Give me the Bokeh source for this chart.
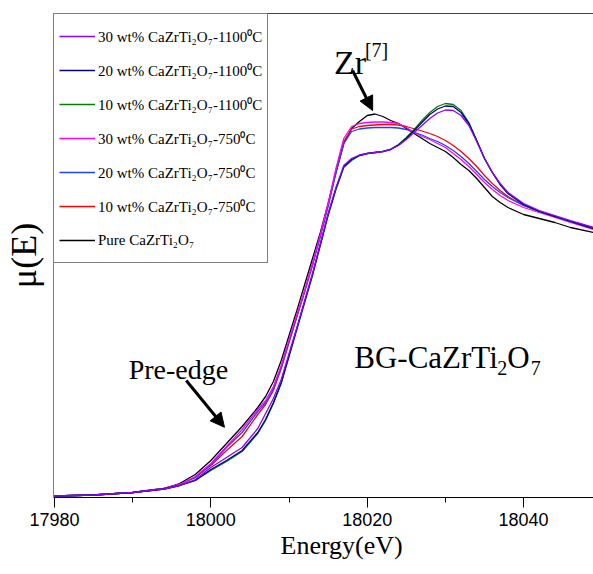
import math
from bokeh.plotting import figure
from bokeh.models import (Range1d, FixedTicker, LinearAxis, Label, Arrow, NormalHead,
                          Legend, LegendItem, NumeralTickFormatter, Title)
from bokeh.embed import file_html
from bokeh.resources import INLINE

# ---------------- data (normalized mu(E)) ----------------
energy = [17980, 17985, 17990, 17994, 17996, 17998, 18000, 18002, 18004, 18006, 18007,
          18008, 18009, 18010, 18011, 18012, 18013, 18014, 18015, 18016, 18017, 18018,
          18019, 18020, 18021, 18022, 18023, 18024, 18025, 18026, 18027, 18028, 18029,
          18030, 18031, 18032, 18033, 18034, 18035, 18036, 18037, 18038, 18040, 18042,
          18044, 18046, 18049]

pure = [0.006, 0.010, 0.020, 0.036, 0.056, 0.092, 0.148, 0.216, 0.284, 0.360, 0.404,
        0.464, 0.548, 0.648, 0.748, 0.852, 0.956, 1.060, 1.176, 1.300, 1.416, 1.476,
        1.504, 1.528, 1.534, 1.524, 1.508, 1.496, 1.476, 1.456, 1.436, 1.416, 1.400,
        1.384, 1.360, 1.332, 1.308, 1.276, 1.240, 1.204, 1.180, 1.160, 1.132, 1.116,
        1.100, 1.080, 1.060]

wt10_750 = [0.006, 0.010, 0.020, 0.036, 0.052, 0.080, 0.128, 0.188, 0.244, 0.332, 0.372,
            0.428, 0.516, 0.620, 0.724, 0.824, 0.932, 1.048, 1.172, 1.308, 1.424, 1.474,
            1.484, 1.488, 1.490, 1.492, 1.492, 1.490, 1.484, 1.475, 1.466, 1.456, 1.444,
            1.428, 1.408, 1.384, 1.356, 1.324, 1.288, 1.256, 1.228, 1.204, 1.168, 1.144,
            1.124, 1.104, 1.076]

wt20_750 = [0.006, 0.010, 0.020, 0.036, 0.052, 0.080, 0.132, 0.200, 0.260, 0.344, 0.380,
            0.436, 0.520, 0.624, 0.724, 0.824, 0.928, 1.044, 1.164, 1.300, 1.416, 1.464,
            1.474, 1.478, 1.480, 1.480, 1.480, 1.478, 1.472, 1.461, 1.450, 1.436, 1.424,
            1.408, 1.388, 1.364, 1.336, 1.304, 1.272, 1.244, 1.220, 1.200, 1.168, 1.144,
            1.124, 1.104, 1.076]

wt30_750 = [0.006, 0.010, 0.020, 0.036, 0.052, 0.084, 0.136, 0.204, 0.272, 0.352, 0.388,
            0.444, 0.528, 0.632, 0.732, 0.828, 0.936, 1.052, 1.176, 1.316, 1.436, 1.484,
            1.496, 1.500, 1.502, 1.502, 1.500, 1.496, 1.480, 1.460, 1.444, 1.432, 1.416,
            1.400, 1.376, 1.352, 1.324, 1.292, 1.260, 1.232, 1.208, 1.188, 1.160, 1.140,
            1.120, 1.100, 1.072]

wt10_1100 = [0.006, 0.010, 0.020, 0.034, 0.048, 0.068, 0.108, 0.144, 0.184, 0.256, 0.308,
             0.376, 0.456, 0.564, 0.672, 0.780, 0.888, 1.008, 1.128, 1.232, 1.320, 1.348,
             1.368, 1.376, 1.380, 1.384, 1.394, 1.412, 1.440, 1.472, 1.508, 1.540, 1.564,
             1.576, 1.572, 1.548, 1.500, 1.428, 1.356, 1.300, 1.252, 1.216, 1.172, 1.144,
             1.124, 1.104, 1.076]

wt20_1100 = [0.006, 0.010, 0.020, 0.034, 0.048, 0.068, 0.112, 0.148, 0.188, 0.260, 0.312,
             0.380, 0.460, 0.568, 0.676, 0.784, 0.892, 1.012, 1.132, 1.236, 1.324, 1.352,
             1.368, 1.376, 1.380, 1.384, 1.392, 1.410, 1.436, 1.468, 1.500, 1.532, 1.554,
             1.566, 1.564, 1.540, 1.496, 1.428, 1.356, 1.300, 1.252, 1.216, 1.172, 1.144,
             1.124, 1.104, 1.076]

wt30_1100 = [0.006, 0.010, 0.020, 0.034, 0.048, 0.072, 0.120, 0.160, 0.200, 0.276, 0.336,
             0.396, 0.472, 0.576, 0.680, 0.788, 0.896, 1.016, 1.136, 1.240, 1.328, 1.356,
             1.370, 1.376, 1.380, 1.384, 1.392, 1.408, 1.432, 1.460, 1.488, 1.516, 1.538,
             1.550, 1.548, 1.528, 1.488, 1.424, 1.356, 1.300, 1.256, 1.220, 1.176, 1.148,
             1.128, 1.108, 1.080]

x_ticks = [17980, 18000, 18020, 18040]
x_minor = [17990, 18010, 18030]

series_labels = ["30 wt% CaZrTi\u2082O\u2087-1100\u2070C",
                 "20 wt% CaZrTi\u2082O\u2087-1100\u2070C",
                 "10 wt% CaZrTi\u2082O\u2087-1100\u2070C",
                 "30 wt% CaZrTi\u2082O\u2087-750\u2070C",
                 "20 wt% CaZrTi\u2082O\u2087-750\u2070C",
                 "10 wt% CaZrTi\u2082O\u2087-750\u2070C",
                 "Pure CaZrTi\u2082O\u2087"]
series_values = [wt30_1100, wt20_1100, wt10_1100, wt30_750, wt20_750, wt10_750, pure]
series_colors = ["#8B00FF", "#000080", "#008000", "#FF00FF", "#2040FF", "#FF0000", "#000000"]

# ---------------- figure ----------------
SERIF = "Liberation Serif"
p = figure(width=593, height=574, output_backend="svg", toolbar_location=None,
           x_range=Range1d(17979.872, 18048.94), y_range=Range1d(0, 1.936),
           min_border_left=52, min_border_right=0, min_border_top=13, min_border_bottom=77)
p.grid.visible = False
p.outline_line_color = None
p.background_fill_color = "white"
p.border_fill_color = "white"

xa = p.xaxis[0]
xa.ticker = FixedTicker(ticks=x_ticks, minor_ticks=x_minor)
xa.formatter = NumeralTickFormatter(format="0")
xa.major_label_text_font = "Liberation Sans"
xa.major_label_text_font_size = "18px"
xa.major_label_text_color = "black"
xa.major_tick_out = 10
xa.major_tick_in = 0
xa.minor_tick_out = 5
xa.minor_tick_in = 0
xa.major_label_standoff = 5
xa.axis_line_color = "black"
xa.axis_line_width = 1.2
xa.major_tick_line_color = "black"
xa.minor_tick_line_color = "black"

ya = p.yaxis[0]
ya.ticker = FixedTicker(ticks=[])
ya.major_tick_out = 0
ya.minor_tick_out = 0
ya.major_label_text_font_size = "0px"
ya.axis_line_color = "#808080"
ya.axis_label = "\u03bc(E)"
ya.axis_label_text_font = SERIF
ya.axis_label_text_font_size = "36px"
ya.axis_label_text_font_style = "normal"
ya.axis_label_text_color = "black"
ya.axis_label_standoff = 10

top = LinearAxis(ticker=FixedTicker(ticks=[]), major_tick_out=0, minor_tick_out=0,
                 major_label_text_font_size="0px", axis_line_color="#404040")
p.add_layout(top, "above")

xtitle = Title(text="Energy(eV)", align="left", offset=227, text_font=SERIF,
               text_font_size="26px", text_font_style="normal", text_color="black",
               standoff=0)
p.add_layout(xtitle, "below")

# draw order: black underneath, purple on top
draw_order = [6, 5, 4, 3, 2, 1, 0]
renderers = {}
for i in draw_order:
    renderers[i] = p.line(energy, series_values[i], line_color=series_colors[i], line_width=1.3)

legend = Legend(items=[LegendItem(label=series_labels[i], renderers=[renderers[i]]) for i in range(7)],
                location="top_left", margin=0, padding=5, spacing=0,
                glyph_width=36, glyph_height=34, label_height=34, label_standoff=3,
                label_text_font=SERIF, label_text_font_size="15px", label_text_color="black",
                border_line_color="black", border_line_width=1,
                background_fill_color="white", background_fill_alpha=1)
p.add_layout(legend)

# ---------------- annotations ----------------
def lab(x, y, t, size):
    return Label(x=x, y=y, text=t, text_font=SERIF, text_font_size=size, text_color="black",
                 text_baseline="alphabetic", text_align="left")

p.add_layout(lab(18015.75, 1.740, "Zr", "34px"))
p.add_layout(lab(18019.70, 1.792, "[7]", "20px"))
p.add_layout(Arrow(end=NormalHead(size=14, fill_color="black", line_color="black"),
                   x_start=18018.13, y_start=1.708, x_end=18020.69, y_end=1.548,
                   line_width=3, line_color="black"))

p.add_layout(lab(17989.49, 0.511, "Pre-edge", "28px"))
p.add_layout(Arrow(end=NormalHead(size=14, fill_color="black", line_color="black"),
                   x_start=17996.85, y_start=0.468, x_end=18001.74, y_end=0.281,
                   line_width=3, line_color="black"))

p.add_layout(lab(18018.34, 0.561, "BG-CaZrTi", "31px"))
p.add_layout(lab(18036.64, 0.520, "2", "20px"))
p.add_layout(lab(18037.92, 0.561, "O", "31px"))
p.add_layout(lab(18040.90, 0.520, "7", "20px"))

open("out.html", "w").write(file_html(p, INLINE))
